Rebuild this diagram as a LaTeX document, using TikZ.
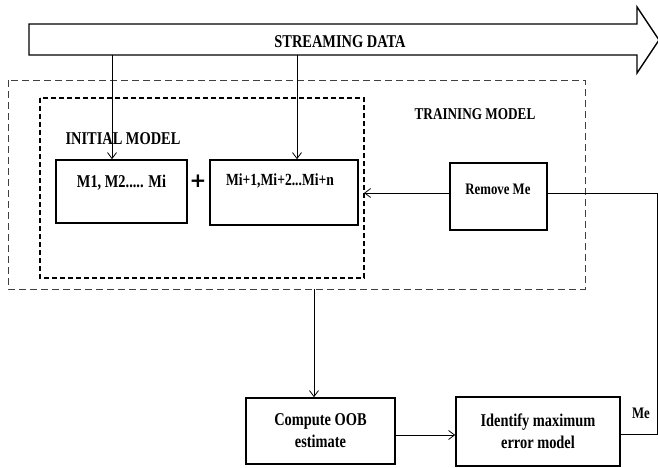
\documentclass[tikz,border=0pt]{standalone}
\usepackage{fontspec}
\setmainfont{Liberation Serif}[FakeStretch=0.8]
\newfontfamily\plusfont{DejaVu Sans}
\usetikzlibrary{arrows.meta}
\begin{document}
\begin{tikzpicture}[x=1pt,y=-1pt,
  box/.style={draw=black,line width=1.6pt,rectangle,inner sep=0pt},
  lbl/.style={font=\bfseries,inner sep=0pt,align=center},
  conn/.style={line width=0.8pt,-{Straight Barb[length=6pt,width=9pt,line width=0.8pt]}},
  plain/.style={line width=0.8pt},
  outerdash/.style={draw=black!75,line width=0.9pt,dash pattern=on 7pt off 4pt},
  innerdash/.style={draw=black,line width=1.8pt,dash pattern=on 5pt off 3pt}]
\useasboundingbox (0,0) rectangle (658,468);
\fill[white] (0,0) rectangle (658,468);
% streaming data arrow
\draw[line width=1.4pt,line join=miter] (29,24) -- (637,24) -- (637,7) -- (659,40) -- (637,73) -- (637,55) -- (29,55) -- cycle;
\node[lbl,font=\bfseries\fontsize{18}{20}\selectfont] (sd) at (340,42) {STREAMING DATA};
\coordinate (s1) at (112,55);
\coordinate (s2) at (297,55);
% dashed containers
\draw[outerdash] (8,80) rectangle (585,289);
\draw[innerdash] (40,98) rectangle (364,278);
\node[lbl,font=\bfseries\fontsize{16.5}{18}\selectfont] (tm) at (475,114) {TRAINING MODEL};
\node[lbl,font=\bfseries\fontsize{18}{20}\selectfont] (im) at (123,139) {INITIAL MODEL};
% boxes
\node[box,minimum width=131pt,minimum height=63pt] (m1) at (121.5,191.5) {};
\node[lbl,font=\bfseries\fontsize{18}{20}\selectfont] at (121.5,183) {M1, M2..... Mi};
\node[lbl,font=\plusfont\bfseries\fontsize{20}{22}\selectfont] (plus) at (198,181) {+};
\node[box,minimum width=148pt,minimum height=65pt] (m2) at (284,192.5) {};
\node[lbl,font=\bfseries\fontsize{17}{19}\selectfont] at (280,181) {Mi+1,Mi+2...Mi+n};
\node[box,minimum width=97pt,minimum height=67pt] (rm) at (498.5,196.5) {};
\node[lbl,font=\bfseries\fontsize{16}{18}\selectfont] at (498,189) {Remove Me};
\node[box,minimum width=149pt,minimum height=66pt,font=\bfseries\fontsize{18}{22}\selectfont,align=center] (oob) at (320.5,431) {Compute OOB\\estimate};
\node[box,minimum width=164pt,minimum height=69pt,font=\bfseries\fontsize{18}{22}\selectfont,align=center] (id) at (538,431.5) {Identify maximum\\error model};
\node[lbl,font=\bfseries\fontsize{16}{18}\selectfont] (me) at (641,413) {Me};
% connectors
\draw[conn] (s1) -- (m1.north -| s1);
\draw[conn] (s2) -- (m2.north -| s2);
\coordinate (rin) at (364,193);
\draw[conn] (rm.west |- rin) -- (rin);
\coordinate (corner1) at (657,193);
\coordinate (corner2) at (657,434);
\draw[plain] (rm.east |- corner1) -- (corner1) -- (corner2) -- (id.east |- corner2);
\coordinate (obtop) at (314,289);
\draw[conn] (obtop) -- (oob.north -| obtop);
\coordinate (ar) at (395,435);
\draw[conn] (oob.east |- ar) -- (id.west |- ar);
\end{tikzpicture}
\end{document}
